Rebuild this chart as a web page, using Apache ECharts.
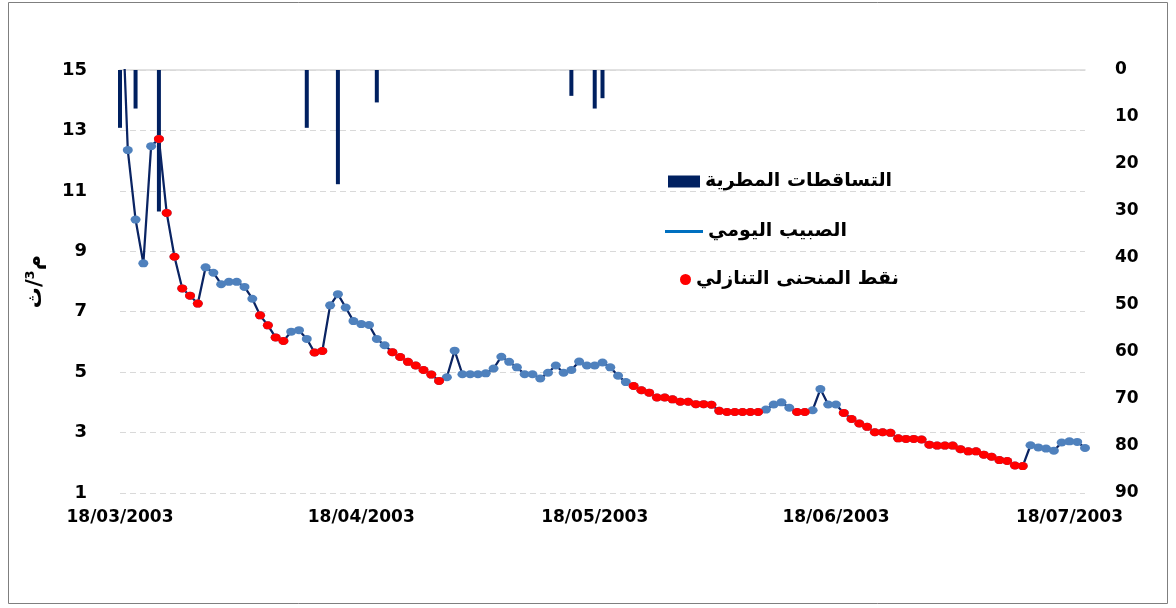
<!DOCTYPE html>
<html>
<head>
<meta charset="utf-8">
<script src="https://cdn.jsdelivr.net/npm/echarts@6/dist/echarts.min.js"></script>
<style>
  html, body { margin: 0; padding: 0; background: #fff; }
  #chart { width: 1176px; height: 608px; }
</style>
</head>
<body>
<div id="chart"></div>
<script>
// daily series starts on 18/03/2003, one value per day up to 20/07/2003
const startDate = [2003, 2, 18];
const dayCount = 125;

// daily discharge (m3/s), first value is above the axis max and gets clipped
const discharge = [
  19.0, 12.35, 10.05, 8.6, 12.48, 12.72, 10.27, 8.82, 7.77, 7.53,
  7.27, 8.47, 8.29, 7.91, 7.99, 7.99, 7.82, 7.43, 6.88, 6.55,
  6.15, 6.03, 6.34, 6.39, 6.10, 5.65, 5.70, 7.21, 7.58, 7.14,
  6.69, 6.59, 6.56, 6.10, 5.89, 5.66, 5.50, 5.34, 5.22, 5.07,
  4.92, 4.71, 4.83, 5.71, 4.93, 4.93, 4.93, 4.96, 5.12, 5.51,
  5.34, 5.16, 4.93, 4.93, 4.79, 4.98, 5.22, 4.98, 5.07, 5.35,
  5.22, 5.22, 5.32, 5.16, 4.88, 4.67, 4.54, 4.40, 4.32, 4.16,
  4.16, 4.10, 4.02, 4.02, 3.94, 3.94, 3.92, 3.72, 3.68, 3.68,
  3.68, 3.68, 3.68, 3.76, 3.93, 4.00, 3.82, 3.68, 3.68, 3.74,
  4.44, 3.93, 3.93, 3.65, 3.45, 3.30, 3.19, 3.01, 3.01, 2.99,
  2.81, 2.79, 2.79, 2.77, 2.60, 2.57, 2.57, 2.57, 2.45, 2.38,
  2.38, 2.27, 2.20, 2.09, 2.06, 1.91, 1.89, 2.58, 2.51, 2.47,
  2.40, 2.67, 2.71, 2.69, 2.49
];

// day indexes (from 18/03) that belong to the recession curve
const recessionRanges = [[5, 10], [18, 21], [25, 26], [35, 41], [66, 82], [87, 88], [93, 116]];

// rainfall (mm), only rainy days
const rainDays = ['18/03/2003', '20/03/2003', '23/03/2003', '11/04/2003', '15/04/2003', '20/04/2003', '15/05/2003', '18/05/2003', '19/05/2003'];
const rainValues = [12.3, 8.2, 30.1, 12.3, 24.3, 6.9, 5.5, 8.2, 6.0];

const leftTicks = [1, 15, 2];   // min, max, step
const rightTicks = [0, 90, 10];

const nameRain = 'التساقطات المطرية';
const nameFlow = 'الصبيب اليومي';
const nameRecession = 'نقط المنحنى التنازلي';

const pad = n => (n < 10 ? '0' + n : '' + n);
const dates = [];
for (let i = 0; i < dayCount; i++) {
  const d = new Date(startDate[0], startDate[1], startDate[2] + i);
  dates.push(pad(d.getDate()) + '/' + pad(d.getMonth() + 1) + '/' + d.getFullYear());
}

const recessionData = [];
recessionRanges.forEach(([a, b]) => {
  for (let i = a; i <= b; i++) recessionData.push([dates[i], discharge[i]]);
});

const rainData = rainDays.map((d, i) => [d, rainValues[i]]);

const FONT = 'DejaVu Sans';
const chart = echarts.init(document.getElementById('chart'));

const legendText = { fontFamily: FONT, fontSize: 19, fontWeight: 'bold', color: '#000' };

const option = {
  backgroundColor: '#fff',
  animation: false,
  grid: { left: 120, right: 91, top: 70, bottom: 115 },
  graphic: [{
    type: 'rect',
    shape: { x: 8.5, y: 2.5, width: 1159, height: 601 },
    style: { fill: 'none', stroke: '#7f7f7f', lineWidth: 1 },
    silent: true
  }],
  legend: [
    {
      data: [{ name: nameRain, icon: 'rect' }],
      left: 663, top: 167, itemWidth: 32, itemHeight: 12, itemGap: 0,
      textStyle: legendText
    },
    {
      data: [{ name: nameFlow, icon: 'rect', itemStyle: { color: '#0070c0' } }],
      left: 660, top: 217, itemWidth: 38, itemHeight: 3,
      textStyle: legendText
    },
    {
      data: [{ name: nameRecession, icon: 'circle' }],
      left: 675, top: 265, itemWidth: 11, itemHeight: 11,
      textStyle: legendText
    }
  ],
  xAxis: {
    type: 'category',
    data: dates,
    boundaryGap: false,
    axisLine: { lineStyle: { color: '#d9d9d9', width: 1.5 } },
    axisTick: { show: false },
    axisLabel: {
      interval: (idx, val) => val.slice(0, 2) === '18',
      margin: 16,
      fontFamily: FONT, fontSize: 17, fontWeight: 'bold', color: '#000'
    },
    splitLine: { show: false }
  },
  yAxis: [
    {
      type: 'value',
      min: leftTicks[0], max: leftTicks[1], interval: leftTicks[2],
      name: 'م³/ث',
      nameLocation: 'middle',
      nameRotate: 90,
      nameGap: 74,
      nameTextStyle: { fontFamily: FONT, fontSize: 21, fontWeight: 'bold', color: '#000' },
      axisLine: { show: false },
      axisTick: { show: false },
      axisLabel: { margin: 33, fontFamily: FONT, fontSize: 18, fontWeight: 'bold', color: '#000' },
      splitLine: { lineStyle: { color: '#d9d9d9', type: [6, 4], width: 1.2 } }
    },
    {
      type: 'value',
      inverse: true,
      min: rightTicks[0], max: rightTicks[1], interval: rightTicks[2],
      axisLine: { show: false },
      axisTick: { show: false },
      axisLabel: { margin: 30, align: 'left', fontFamily: FONT, fontSize: 17, fontWeight: 'bold', color: '#000' },
      splitLine: { show: false }
    }
  ],
  series: [
    {
      name: nameRain,
      type: 'bar',
      yAxisIndex: 1,
      barWidth: 4,
      itemStyle: { color: '#002060' },
      data: rainData,
      z: 1
    },
    {
      name: nameFlow,
      type: 'line',
      yAxisIndex: 0,
      data: discharge,
      clip: true,
      symbol: 'circle',
      symbolSize: [10, 8],
      showAllSymbol: true,
      lineStyle: { color: '#0a2463', width: 2.25 },
      itemStyle: { color: '#4f81bd', borderWidth: 0 },
      z: 2
    },
    {
      name: nameRecession,
      type: 'scatter',
      yAxisIndex: 0,
      data: recessionData,
      symbol: 'circle',
      symbolSize: [10, 8],
      itemStyle: { color: '#ff0000', opacity: 1 },
      z: 3
    }
  ]
};

chart.setOption(option);
</script>
</body>
</html>
